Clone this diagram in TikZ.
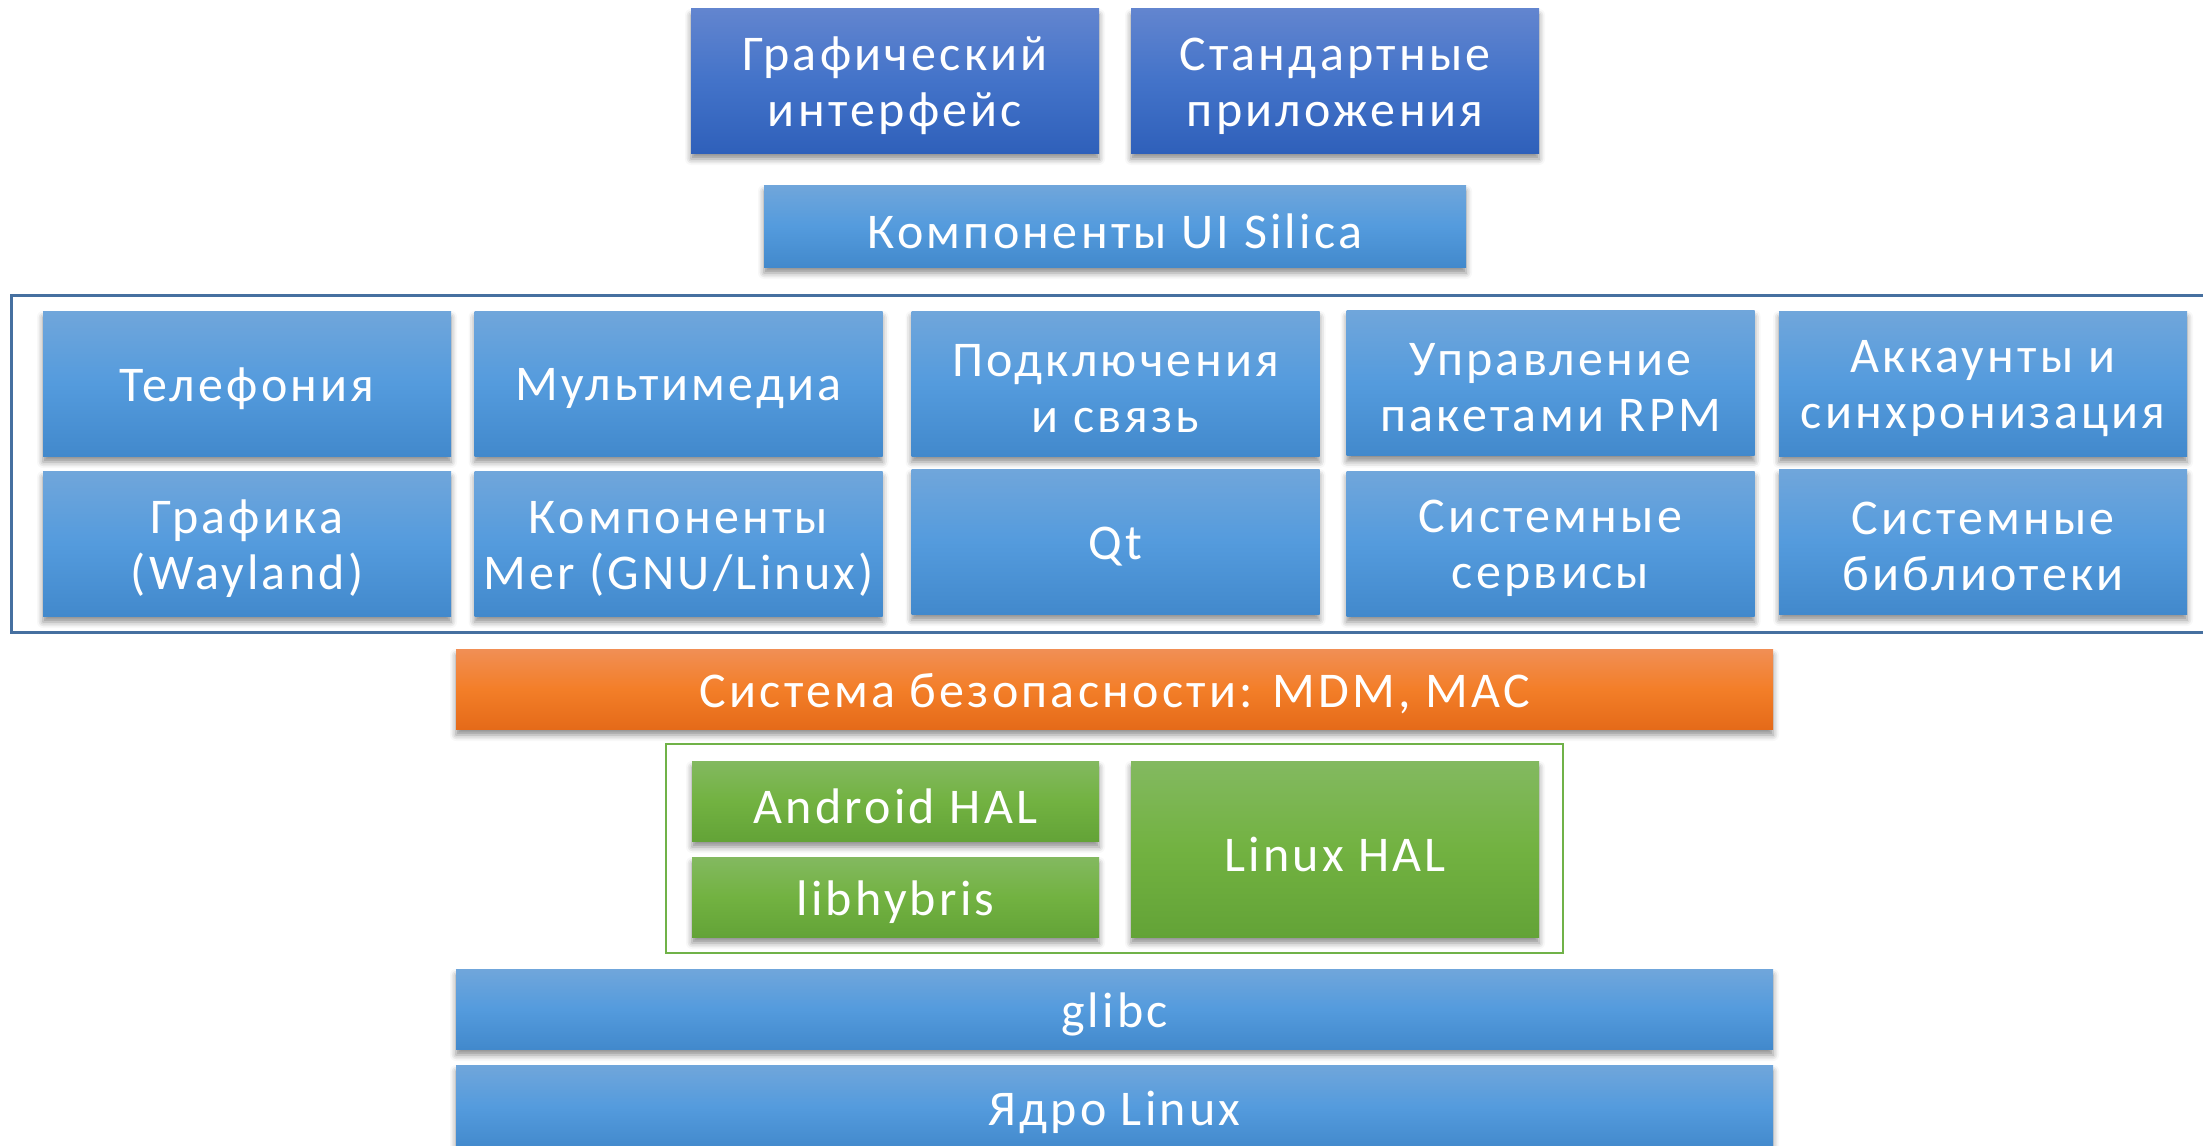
\documentclass[tikz,border=0pt]{standalone}
\usepackage{fontspec}
\setmainfont{Carlito}[LetterSpace=6.5]
\usetikzlibrary{shadows.blur}
\definecolor{bTop}{RGB}{112,166,219}
\definecolor{bMid}{RGB}{84,155,221}
\definecolor{bBot}{RGB}{66,137,204}
\definecolor{dTop}{RGB}{98,133,207}
\definecolor{dMid}{RGB}{67,115,201}
\definecolor{dBot}{RGB}{47,96,186}
\definecolor{oTop}{RGB}{241,143,85}
\definecolor{oMid}{RGB}{243,126,40}
\definecolor{oBot}{RGB}{229,106,25}
\definecolor{gTop}{RGB}{131,185,96}
\definecolor{gMid}{RGB}{114,178,65}
\definecolor{gBot}{RGB}{99,163,55}
\definecolor{frameBlue}{RGB}{70,112,160}
\definecolor{frameGreen}{RGB}{112,178,72}
\tikzset{
  layer/.style={inner sep=0pt,
    blur shadow={shadow xshift=0pt, shadow yshift=-3pt, shadow blur radius=3pt, shadow opacity=45}},
  txt/.style={inner sep=0pt, align=center, text=white, font=\fontsize{25}{28}\selectfont},
  bluebox/.style={layer, top color=bTop, bottom color=bBot, middle color=bMid},
  darkbox/.style={layer, top color=dTop, bottom color=dBot, middle color=dMid},
  orangebox/.style={layer, top color=oTop, bottom color=oBot, middle color=oMid},
  greenbox/.style={layer, top color=gTop, bottom color=gBot, middle color=gMid},
  cell/.style={bluebox, minimum width=204pt, minimum height=72.5pt}
}
\newcommand{\boxtext}[3]{\node[txt] (#1-t) at ([yshift=-2.5pt]#2.center) {#3};}
\begin{document}
\begin{tikzpicture}[x=0.5pt,y=-0.5pt]
\useasboundingbox (0,0) rectangle (2203,1145);
\clip (0,0) rectangle (2203,1145);
% top
\node[darkbox, minimum width=204pt, minimum height=72pt] (gui) at (895,81) {};
\node[darkbox, minimum width=204pt, minimum height=72pt] (apps) at (1335,81) {};
\node[bluebox, minimum width=351pt, minimum height=41pt] (silica) at (1115,226) {};
% middle frame
\draw[frameBlue, line width=1.5pt] (11,295) rectangle (2215,632);
\node[cell] (tel) at (247,383.5) {};
\node[cell] (mm) at (678.5,383.5) {};
\node[cell] (conn) at (1115.5,383.5) {};
\node[cell] (rpm) at (1550.5,383) {};
\node[cell] (acc) at (1983,383.5) {};
\node[cell] (gfx) at (247,543.5) {};
\node[cell] (mer) at (678.5,543.5) {};
\node[cell] (qt) at (1115.5,541.5) {};
\node[cell] (srv) at (1550.5,543.5) {};
\node[cell] (lib) at (1983,541.5) {};
% security
\node[orangebox, minimum width=658.5pt, minimum height=40pt] (sec) at (1114.5,689) {};
% HAL frame
\draw[frameGreen, line width=1.2pt] (666,744) rectangle (1563,953);
\node[greenbox, minimum width=203.5pt, minimum height=40pt] (ahal) at (895.5,801) {};
\node[greenbox, minimum width=203.5pt, minimum height=40pt] (hyb) at (895.5,897) {};
\node[greenbox, minimum width=204pt, minimum height=88pt] (lhal) at (1335,849) {};
% bottom
\node[bluebox, minimum width=658.5pt, minimum height=40pt] (glibc) at (1114.5,1009) {};
\node[bluebox, minimum width=658.5pt, minimum height=42pt] (kern) at (1114.5,1107) {};
% texts
\boxtext{gui}{gui}{Графический\\интерфейс}
\boxtext{apps}{apps}{Стандартные\\приложения}
\boxtext{silica}{silica}{Компоненты UI Silica}
\boxtext{tel}{tel}{Телефония}
\boxtext{mm}{mm}{Мультимедиа}
\boxtext{conn}{conn}{Подключения\\и связь}
\boxtext{rpm}{rpm}{Управление\\пакетами RPM}
\boxtext{acc}{acc}{Аккаунты и\\синхронизация}
\boxtext{gfx}{gfx}{Графика\\(Wayland)}
\boxtext{mer}{mer}{Компоненты\\Mer (GNU/Linux)}
\boxtext{qt}{qt}{Qt}
\boxtext{srv}{srv}{Системные\\сервисы}
\boxtext{lib}{lib}{Системные\\библиотеки}
\boxtext{sec}{sec}{Система безопасности: MDM, MAC}
\boxtext{ahal}{ahal}{Android HAL}
\boxtext{hyb}{hyb}{libhybris}
\boxtext{lhal}{lhal}{Linux HAL}
\boxtext{glibc}{glibc}{glibc}
\boxtext{kern}{kern}{Ядро Linux}
\end{tikzpicture}
\end{document}
